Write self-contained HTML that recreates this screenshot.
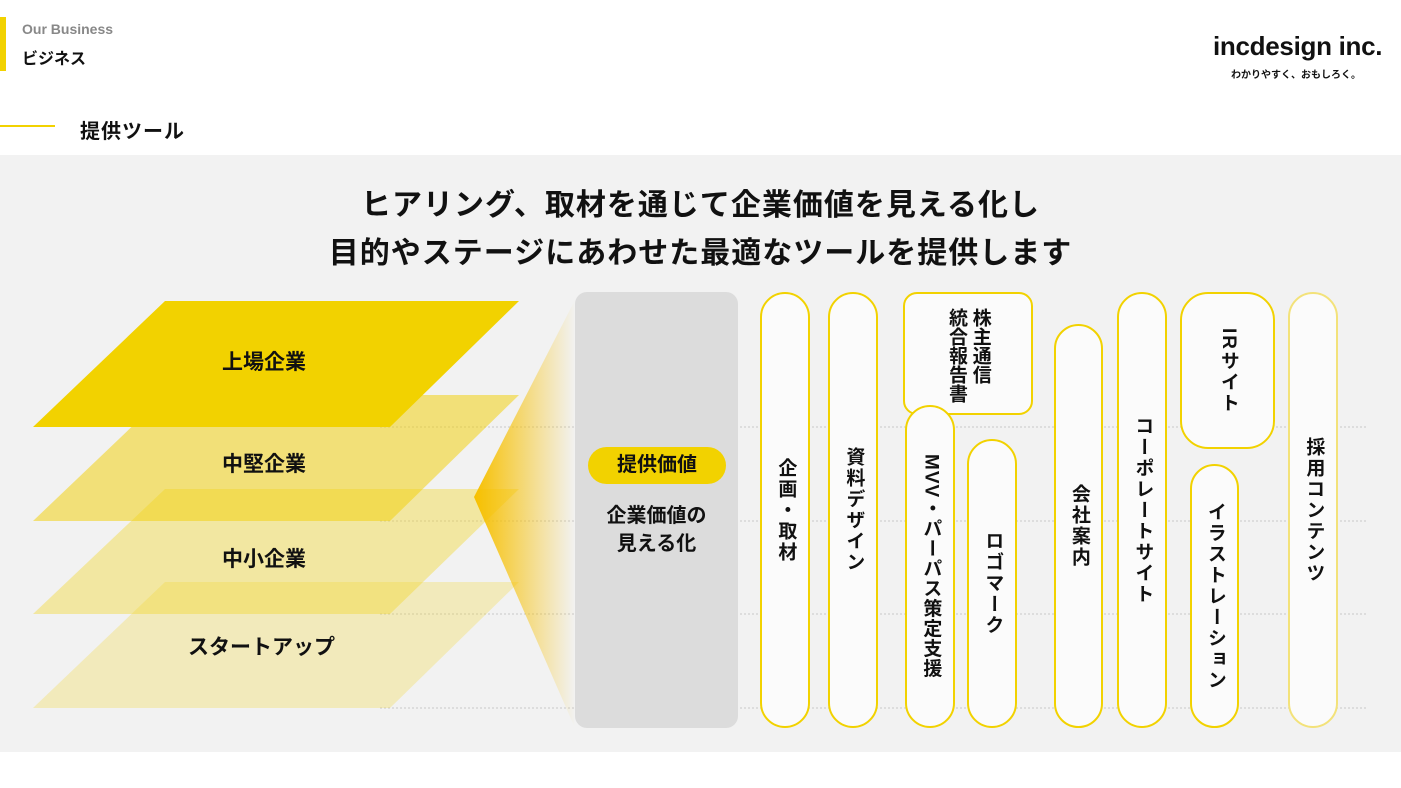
<!DOCTYPE html>
<html><head><meta charset="utf-8">
<style>
*{margin:0;padding:0;box-sizing:border-box}
body{width:1401px;height:788px;background:#fff;position:relative;overflow:hidden;font-family:"Liberation Sans","Noto Sans CJK JP",sans-serif;color:#111}
.abs{position:absolute}
.pill{position:absolute;border:2px solid #f2d200;background:#fbfbfb;border-radius:25px;display:flex;align-items:center;justify-content:center}
.v{writing-mode:vertical-rl;font-weight:700;font-size:19px;letter-spacing:2px;line-height:1.2;white-space:nowrap}
</style></head><body>
<div class="abs" style="left:0;top:17px;width:6px;height:54px;background:#f2d200"></div>
<div class="abs" style="left:22px;top:21px;font-size:14px;font-weight:700;color:#888">Our Business</div>
<div class="abs" style="left:22px;top:45px;font-size:16px;font-weight:700">ビジネス</div>
<div class="abs" style="left:1213px;top:31px;font-size:26px;font-weight:700;letter-spacing:-0.3px">incdesign inc.</div>
<div class="abs" style="left:1231px;top:66px;font-size:10px;font-weight:700">わかりやすく、おもしろく。</div>
<div class="abs" style="left:0;top:125px;width:55px;height:2px;background:#f2d200"></div>
<div class="abs" style="left:80px;top:115px;font-size:20px;font-weight:700;letter-spacing:1px">提供ツール</div>
<div class="abs" style="left:0;top:155px;width:1401px;height:597px;background:#f2f2f2"></div>
<div class="abs" style="left:0;top:182px;width:1401px;text-align:center;font-size:30px;font-weight:700;line-height:48px;letter-spacing:1px">ヒアリング、取材を通じて企業価値を見える化し<br>目的やステージにあわせた最適なツールを提供します</div>
<svg class="abs" style="left:0;top:0" width="1401" height="788">
<defs><linearGradient id="g" x1="0" x2="1"><stop offset="0" stop-color="#f7c000"/><stop offset="1" stop-color="#f7c000" stop-opacity="0"/></linearGradient></defs>
<g stroke="#c8c8c8" stroke-dasharray="2 2" stroke-width="1">
<line x1="380" y1="427" x2="1368" y2="427"/><line x1="380" y1="521" x2="1368" y2="521"/><line x1="380" y1="614" x2="1368" y2="614"/><line x1="380" y1="708" x2="1368" y2="708"/></g>
<polygon points="165,582 519,582 390,708 33,708" fill="rgba(242,215,60,0.3)"/>
<polygon points="165,489 519,489 390,614 33,614" fill="rgba(242,215,40,0.4)"/>
<polygon points="165,395 519,395 390,521 33,521" fill="rgba(242,210,20,0.55)"/>
<polygon points="165,301 519,301 390,427 33,427" fill="#f2d200"/>
<polygon points="474,497 575,300 575,728" fill="url(#g)"/>
</svg>
<div class="abs" style="left:222px;top:346px;font-size:21px;font-weight:700">上場企業</div>
<div class="abs" style="left:222px;top:448px;font-size:21px;font-weight:700">中堅企業</div>
<div class="abs" style="left:222px;top:543px;font-size:21px;font-weight:700">中小企業</div>
<div class="abs" style="left:188px;top:631px;font-size:21px;font-weight:700">スタートアップ</div>
<div class="abs" style="left:575px;top:292px;width:163px;height:436px;background:#dcdcdc;border-radius:12px"></div>
<div class="abs" style="left:588px;top:447px;width:138px;height:37px;background:#f2d200;border-radius:19px;text-align:center;line-height:37px;font-size:20px;font-weight:700">提供価値</div>
<div class="abs" style="left:575px;top:502px;width:163px;text-align:center;font-size:20px;font-weight:700;line-height:28px">企業価値の<br>見える化</div>
<div class="pill" style="left:760px;top:292px;width:50px;height:436px"><span class="v">企画・取材</span></div>
<div class="pill" style="left:828px;top:292px;width:50px;height:436px"><span class="v">資料デザイン</span></div>
<div class="pill" style="left:903px;top:292px;width:130px;height:123px;border-radius:14px;align-items:flex-start;padding-top:14px"><span class="v" style="line-height:1.25;letter-spacing:0">株主通信<br>統合報告書</span></div>
<div class="pill" style="left:905px;top:405px;width:50px;height:323px"><span class="v" style="letter-spacing:1px">MVV・パーパス策定支援</span></div>
<div class="pill" style="left:967px;top:439px;width:50px;height:289px"><span class="v">ロゴマーク</span></div>
<div class="pill" style="left:1054px;top:324px;width:49px;height:404px"><span class="v">会社案内</span></div>
<div class="pill" style="left:1117px;top:292px;width:50px;height:436px"><span class="v">コーポレートサイト</span></div>
<div class="pill" style="left:1180px;top:292px;width:95px;height:157px;border-radius:28px"><span class="v">IRサイト</span></div>
<div class="pill" style="left:1190px;top:464px;width:49px;height:264px"><span class="v">イラストレーション</span></div>
<div class="pill" style="left:1288px;top:292px;width:50px;height:436px;border-color:#f3e27a"><span class="v">採用コンテンツ</span></div>
</body></html>
